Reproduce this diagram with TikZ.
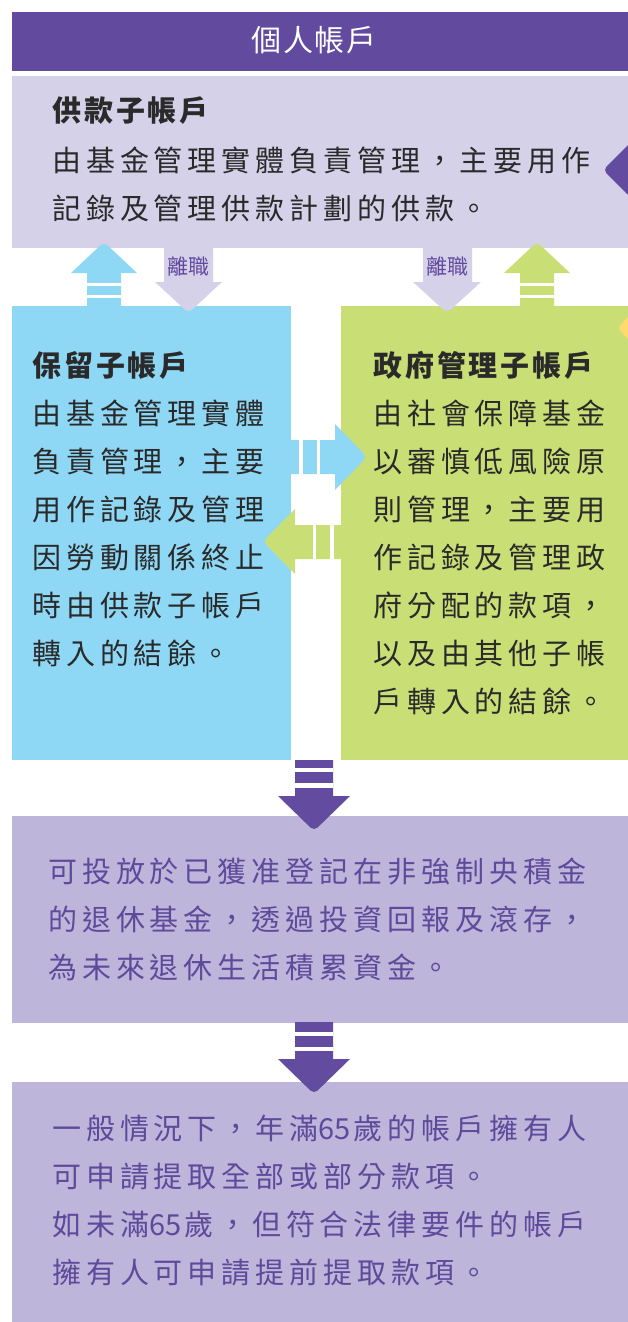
\documentclass[tikz,border=0pt]{standalone}
\usepackage{fontspec}
\newfontfamily\cjkbody[LetterSpace=17]{Noto Sans CJK TC}
\newfontfamily\cjktitle[LetterSpace=10]{Noto Sans CJK TC}
\newfontfamily\cjkhead[LetterSpace=5]{Noto Sans CJK TC}
\newfontfamily\cjkplain{Noto Sans CJK TC}
\definecolor{hdr}{HTML}{624B9E}
\definecolor{lavone}{HTML}{D5D1E9}
\definecolor{skyb}{HTML}{8ED8F6}
\definecolor{leaf}{HTML}{CADE76}
\definecolor{lavtwo}{HTML}{BDB5DA}
\definecolor{purp}{HTML}{634C9F}
\definecolor{yell}{HTML}{FFDB6E}
\definecolor{txtdark}{HTML}{2A2A2A}
\definecolor{txtpurp}{HTML}{5E4A9B}
\newcommand{\dg}[1]{{\cjkplain #1\hspace{3pt}}}
\begin{document}
\begin{tikzpicture}[x=1pt,y=-1pt,
  bodytxt/.style={anchor=base west, inner sep=0pt, text=txtdark,
    font=\cjkbody\fontsize{29}{29}\selectfont},
  purptxt/.style={bodytxt, text=txtpurp},
  titletxt/.style={anchor=base west, inner sep=0pt, text=txtdark,
    font=\cjktitle\bfseries\fontsize{29}{29}\selectfont},
  headtxt/.style={anchor=base, inner sep=0pt, text=white,
    font=\cjkhead\fontsize{30}{30}\selectfont},
  leavetxt/.style={anchor=base, inner sep=0pt, text=hdr,
    font=\cjkplain\fontsize{21}{21}\selectfont},
  gap/.style={fill=white},
  tip/.style={rounded corners=5pt}]
\clip (0,0) rectangle (628,1322);
\fill[white] (0,0) rectangle (628,1322);

% header
\fill[hdr] (12,12) rectangle (628,71);
\node[headtxt] (hd) at (314,52) {個人帳戶};

% contribution account box
\fill[lavone] (12,76) rectangle (628,248);
\fill[purp] (645,128) [tip]-- (603,170) [sharp corners]-- (645,212) -- cycle;
\node[titletxt] (ct) at (52,121) {供款子帳戶};
\node[bodytxt] (c1) at (52,171) {由基金管理實體負責管理，主要用作};
\node[bodytxt] (c2) at (52,219) {記錄及管理供款計劃的供款。};

% preserved / government boxes
\fill[skyb] (12,306) rectangle (291,760);
\fill[leaf] (341,306) rectangle (628,760);
\fill[yell] (645,300) [tip]-- (617,328) [sharp corners]-- (645,356) -- cycle;

% up arrows
\fill[skyb] (87,306) -- (87,273) -- (71,273) [tip]-- (104,242) [sharp corners]-- (137,273) -- (121,273) -- (121,306) -- cycle;
\fill[gap] (87,282.5) rectangle (121,285.5);
\fill[gap] (87,295) rectangle (121,298);
\fill[leaf] (520,306) -- (520,273) -- (504,273) [tip]-- (537,242) [sharp corners]-- (570,273) -- (554,273) -- (554,306) -- cycle;
\fill[gap] (520,282.5) rectangle (554,285.5);
\fill[gap] (520,295) rectangle (554,298);

% down arrows (leaving employment)
\fill[lavone] (164,247) -- (164,282) -- (155,282) [tip]-- (188.5,313) [sharp corners]-- (222,282) -- (213,282) -- (213,247) -- cycle;
\node[leavetxt] (l1) at (188.5,274.5) {離職};
\fill[lavone] (423,247) -- (423,282) -- (413,282) [tip]-- (447,313) [sharp corners]-- (481,282) -- (472,282) -- (472,247) -- cycle;
\node[leavetxt] (l2) at (447,274.5) {離職};

% middle arrows
\fill[skyb] (290,440) -- (335,440) -- (335,424) [tip]-- (367,457) [sharp corners]-- (335,490) -- (335,474) -- (290,474) -- cycle;
\fill[gap] (299,440) rectangle (303,474);
\fill[gap] (317,440) rectangle (320,474);
\fill[leaf] (342,525) -- (295,525) -- (295,509) [tip]-- (263,541.5) [sharp corners]-- (295,574) -- (295,559) -- (342,559) -- cycle;
\fill[gap] (313,525) rectangle (316,559);
\fill[gap] (330,525) rectangle (334,559);

% preserved text
\node[titletxt] (pt) at (32,376) {保留子帳戶};
\node[bodytxt] (p1) at (32,424) {由基金管理實體};
\node[bodytxt] (p2) at (32,472) {負責管理，主要};
\node[bodytxt] (p3) at (32,520) {用作記錄及管理};
\node[bodytxt] (p4) at (32,568) {因勞動關係終止};
\node[bodytxt] (p5) at (32,616) {時由供款子帳戶};
\node[bodytxt] (p6) at (32,664) {轉入的結餘。};

% government text
\node[titletxt] (gt) at (373,376) {政府管理子帳戶};
\node[bodytxt] (g1) at (373,424) {由社會保障基金};
\node[bodytxt] (g2) at (373,472) {以審慎低風險原};
\node[bodytxt] (g3) at (373,520) {則管理，主要用};
\node[bodytxt] (g4) at (373,568) {作記錄及管理政};
\node[bodytxt] (g5) at (373,616) {府分配的款項，};
\node[bodytxt] (g6) at (373,664) {以及由其他子帳};
\node[bodytxt] (g7) at (373,712) {戶轉入的結餘。};

% investment box
\fill[lavtwo] (12,816) rectangle (628,1023);
\fill[purp] (295,760) -- (295,796) -- (278,796) [tip]-- (314,831) [sharp corners]-- (350,796) -- (333,796) -- (333,760) -- cycle;
\fill[gap] (295,768) rectangle (333,772);
\fill[gap] (295,783) rectangle (333,788);
\node[purptxt] (i1) at (48,882) {可投放於已獲准登記在非強制央積金};
\node[purptxt] (i2) at (48,930) {的退休基金，透過投資回報及滾存，};
\node[purptxt] (i3) at (48,978) {為未來退休生活積累資金。};

% withdrawal box
\fill[lavtwo] (12,1082) rectangle (628,1322);
\fill[purp] (295,1022) -- (295,1059) -- (278,1059) [tip]-- (314,1094) [sharp corners]-- (350,1059) -- (333,1059) -- (333,1022) -- cycle;
\fill[gap] (295,1032) rectangle (333,1036);
\fill[gap] (295,1047) rectangle (333,1051);
\node[purptxt] (w1) at (52,1139) {一般情況下，年滿\dg{65}歲的帳戶擁有人};
\node[purptxt] (w2) at (52,1187) {可申請提取全部或部分款項。};
\node[purptxt] (w3) at (52,1235) {如未滿\dg{65}歲，但符合法律要件的帳戶};
\node[purptxt] (w4) at (52,1283) {擁有人可申請提前提取款項。};
\end{tikzpicture}
\end{document}
